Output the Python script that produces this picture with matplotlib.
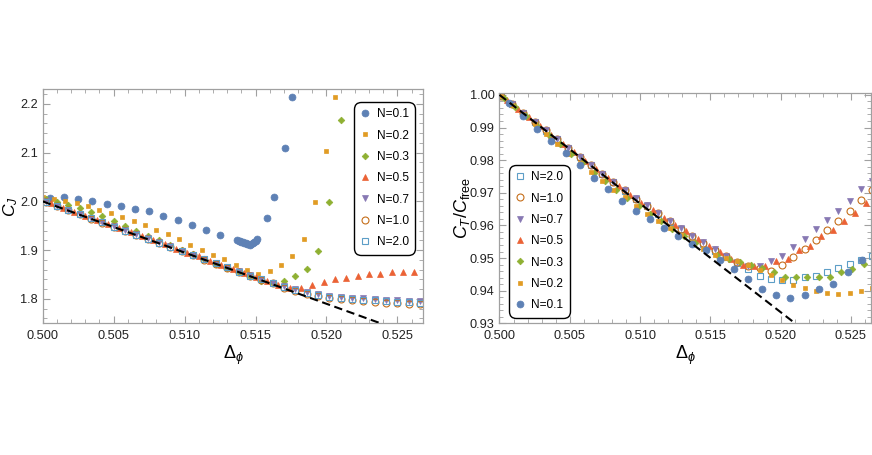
import matplotlib
matplotlib.use('Agg')
import matplotlib.pyplot as plt
from matplotlib.ticker import MultipleLocator, FormatStrFormatter

plt.rcParams['font.family'] = ['Liberation Sans', 'DejaVu Sans']
plt.rcParams['mathtext.fontset'] = 'custom'
plt.rcParams['mathtext.rm'] = 'Liberation Sans'
plt.rcParams['mathtext.it'] = 'Liberation Sans:italic'

# ---------------- left panel: C_J vs Delta_phi ----------------
cj_x_n01 = [0.5005, 0.5015, 0.5025, 0.5035, 0.5045, 0.5055, 0.5065, 0.5075, 0.5085,
            0.5095, 0.5105, 0.5115, 0.5125,
            0.5137, 0.5138, 0.5139, 0.5140, 0.5141, 0.5142, 0.5143, 0.5144, 0.5145,
            0.5146, 0.5147, 0.5148, 0.5149, 0.5150, 0.5151,
            0.5158, 0.5163, 0.5171, 0.5176]
cj_y_n01 = [2.0068, 2.0083, 2.0042, 2.0007, 1.9951, 1.9898, 1.9836, 1.9795, 1.9692,
            1.9610, 1.9520, 1.9411, 1.9315,
            1.9205, 1.9190, 1.9180, 1.9170, 1.9160, 1.9150, 1.9140, 1.9130, 1.9120,
            1.9110, 1.9120, 1.9140, 1.9160, 1.9190, 1.9220,
            1.9660, 2.0090, 2.1100, 2.2140]

cj_x_n02 = [0.5000, 0.5008, 0.5016, 0.5024, 0.5032, 0.5040, 0.5048, 0.5056, 0.5064,
            0.5072, 0.5080, 0.5088, 0.5096, 0.5104, 0.5112, 0.5120, 0.5128, 0.5136,
            0.5144, 0.5152, 0.5160, 0.5168, 0.5176, 0.5184, 0.5192, 0.5200, 0.5206]
cj_y_n02 = [2.0083, 2.0048, 2.0007, 1.9959, 1.9897, 1.9822, 1.9760, 1.9671, 1.9589,
            1.9507, 1.9411, 1.9329, 1.9220, 1.9097, 1.9000, 1.8904, 1.8809, 1.8698,
            1.8603, 1.8521, 1.8582, 1.8692, 1.8883, 1.9220, 1.9980, 2.1034, 2.2137]

cj_x_n03 = [0.5002, 0.5010, 0.5018, 0.5026, 0.5034, 0.5042, 0.5050, 0.5058, 0.5066,
            0.5074, 0.5082, 0.5090, 0.5098, 0.5106, 0.5114, 0.5122, 0.5130, 0.5138,
            0.5146, 0.5154, 0.5162, 0.5170, 0.5178, 0.5186, 0.5194, 0.5202, 0.5210]
cj_y_n03 = [2.0042, 1.9980, 1.9925, 1.9863, 1.9781, 1.9699, 1.9602, 1.9500, 1.9397,
            1.9294, 1.9200, 1.9097, 1.9000, 1.8918, 1.8815, 1.8726, 1.8637, 1.8542,
            1.8460, 1.8370, 1.8320, 1.8377, 1.8466, 1.8616, 1.8990, 1.9980, 2.1670]

cj_x_n05 = [0.5006, 0.5014, 0.5022, 0.5030, 0.5038, 0.5046, 0.5054, 0.5062, 0.5070,
            0.5078, 0.5086, 0.5094, 0.5102, 0.5110, 0.5118, 0.5126, 0.5134, 0.5142,
            0.5150, 0.5158, 0.5166, 0.5174, 0.5182, 0.5190, 0.5198, 0.5206, 0.5214,
            0.5222, 0.5230, 0.5238, 0.5246, 0.5254, 0.5262]
cj_y_n05 = [1.9960, 1.9870, 1.9790, 1.9710, 1.9620, 1.9540, 1.9450, 1.9370, 1.9290,
            1.9200, 1.9120, 1.9030, 1.8950, 1.8870, 1.8780, 1.8700, 1.8610, 1.8530,
            1.8450, 1.8370, 1.8290, 1.8226, 1.8226, 1.8295, 1.8350, 1.8404, 1.8432,
            1.8473, 1.8501, 1.8521, 1.8542, 1.8542, 1.8555]

cj_x_big = [0.5002, 0.5010, 0.5018, 0.5026, 0.5034, 0.5042, 0.5050, 0.5058, 0.5066,
            0.5074, 0.5082, 0.5090, 0.5098, 0.5106, 0.5114, 0.5122, 0.5130, 0.5138,
            0.5146, 0.5154, 0.5162, 0.5170, 0.5178, 0.5186, 0.5194, 0.5202, 0.5210,
            0.5218, 0.5226, 0.5234, 0.5242, 0.5250, 0.5258, 0.5266]
cj_y_n07 = [2.0000, 1.9915, 1.9831, 1.9747, 1.9663, 1.9579, 1.9495, 1.9411, 1.9327,
            1.9243, 1.9159, 1.9075, 1.8991, 1.8907, 1.8823, 1.8739, 1.8655, 1.8571,
            1.8487, 1.8410, 1.8335, 1.8260, 1.8200, 1.8150, 1.8100, 1.8060, 1.8040,
            1.8020, 1.8010, 1.8000, 1.7980, 1.7970, 1.7960, 1.7950]
cj_y_n10 = [1.9984, 1.9900, 1.9816, 1.9732, 1.9648, 1.9564, 1.9480, 1.9396, 1.9312,
            1.9228, 1.9144, 1.9060, 1.8976, 1.8892, 1.8808, 1.8724, 1.8640, 1.8556,
            1.8472, 1.8395, 1.8318, 1.8230, 1.8160, 1.8100, 1.8050, 1.8010, 1.7990,
            1.7970, 1.7950, 1.7940, 1.7920, 1.7910, 1.7900, 1.7890]
cj_y_n20 = [1.9989, 1.9905, 1.9821, 1.9737, 1.9653, 1.9569, 1.9485, 1.9401, 1.9317,
            1.9233, 1.9149, 1.9065, 1.8981, 1.8897, 1.8813, 1.8729, 1.8645, 1.8561,
            1.8477, 1.8402, 1.8326, 1.8245, 1.8180, 1.8120, 1.8070, 1.8030, 1.8010,
            1.7990, 1.7980, 1.7970, 1.7950, 1.7940, 1.7930, 1.7920]

cj_line_x = [0.500, 0.527]
cj_line_y = [2.000, 1.7165]

# ---------------- right panel: C_T/C_free vs Delta_phi ----------------
ct_x_n01 = [0.5007, 0.5017, 0.5027, 0.5037, 0.5047, 0.5057, 0.5067, 0.5077, 0.5087,
            0.5097, 0.5107, 0.5117, 0.5127, 0.5137, 0.5147, 0.5157, 0.5167, 0.5177,
            0.5187, 0.5197, 0.5207, 0.5217, 0.5227, 0.5237, 0.5248, 0.5258]
ct_y_n01 = [0.9976, 0.9935, 0.9894, 0.9858, 0.9823, 0.9786, 0.9746, 0.9712, 0.9676,
            0.9644, 0.9621, 0.9593, 0.9569, 0.9544, 0.9524, 0.9495, 0.9466, 0.9435,
            0.9406, 0.9386, 0.9379, 0.9386, 0.9404, 0.9421, 0.9456, 0.9495]

ct_x_main = [0.5001, 0.5009, 0.5017, 0.5025, 0.5033, 0.5041, 0.5049, 0.5057, 0.5065,
             0.5073, 0.5081, 0.5089, 0.5097, 0.5105, 0.5113, 0.5121, 0.5129, 0.5137,
             0.5145, 0.5153, 0.5161, 0.5169, 0.5177, 0.5185, 0.5193, 0.5201, 0.5209,
             0.5217, 0.5225, 0.5233, 0.5241, 0.5249, 0.5257, 0.5265]
ct_y_n02 = [0.9997, 0.9968, 0.9940, 0.9910, 0.9880, 0.9850, 0.9818, 0.9790, 0.9765,
            0.9737, 0.9710, 0.9686, 0.9660, 0.9636, 0.9613, 0.9592, 0.9570, 0.9548,
            0.9528, 0.9510, 0.9500, 0.9490, 0.9478, 0.9462, 0.9447, 0.9434, 0.9416,
            0.9407, 0.9400, 0.9394, 0.9389, 0.9392, 0.9400, 0.9409]
ct_y_n07 = [0.9997, 0.9971, 0.9944, 0.9918, 0.9891, 0.9864, 0.9838, 0.9811, 0.9785,
            0.9759, 0.9733, 0.9708, 0.9683, 0.9662, 0.9639, 0.9613, 0.9593, 0.9569,
            0.9550, 0.9528, 0.9507, 0.9488, 0.9476, 0.9476, 0.9490, 0.9507, 0.9534,
            0.9559, 0.9588, 0.9616, 0.9644, 0.9674, 0.9711, 0.9737]
ct_y_n10 = [0.9997, 0.9971, 0.9944, 0.9917, 0.9891, 0.9864, 0.9838, 0.9811, 0.9785,
            0.9759, 0.9732, 0.9707, 0.9682, 0.9660, 0.9637, 0.9612, 0.9590, 0.9566,
            0.9546, 0.9526, 0.9506, 0.9488, 0.9476, 0.9468, 0.9460, 0.9480, 0.9503,
            0.9528, 0.9555, 0.9585, 0.9613, 0.9644, 0.9678, 0.9709]
ct_y_n20 = [0.9997, 0.9971, 0.9944, 0.9917, 0.9890, 0.9864, 0.9837, 0.9811, 0.9785,
            0.9758, 0.9732, 0.9706, 0.9681, 0.9658, 0.9635, 0.9610, 0.9588, 0.9564,
            0.9543, 0.9522, 0.9503, 0.9486, 0.9466, 0.9446, 0.9436, 0.9433, 0.9433,
            0.9441, 0.9445, 0.9458, 0.9468, 0.9481, 0.9494, 0.9507]

ct_x_n03 = [0.5003, 0.5011, 0.5019, 0.5027, 0.5035, 0.5043, 0.5051, 0.5059, 0.5067,
            0.5075, 0.5083, 0.5091, 0.5099, 0.5107, 0.5115, 0.5123, 0.5131, 0.5139,
            0.5147, 0.5155, 0.5163, 0.5171, 0.5179, 0.5187, 0.5195, 0.5203, 0.5211,
            0.5219, 0.5227, 0.5235, 0.5243, 0.5251, 0.5259]
ct_y_n03 = [0.9990, 0.9962, 0.9934, 0.9905, 0.9876, 0.9848, 0.9818, 0.9790, 0.9762,
            0.9735, 0.9708, 0.9683, 0.9658, 0.9635, 0.9612, 0.9590, 0.9568, 0.9546,
            0.9526, 0.9508, 0.9496, 0.9489, 0.9480, 0.9468, 0.9456, 0.9443, 0.9443,
            0.9441, 0.9443, 0.9443, 0.9456, 0.9466, 0.9481]

ct_x_n05 = [0.5005, 0.5013, 0.5021, 0.5029, 0.5037, 0.5045, 0.5053, 0.5061, 0.5069,
            0.5077, 0.5085, 0.5093, 0.5101, 0.5109, 0.5117, 0.5125, 0.5133, 0.5141,
            0.5149, 0.5157, 0.5165, 0.5173, 0.5181, 0.5189, 0.5197, 0.5205, 0.5213,
            0.5221, 0.5229, 0.5237, 0.5245, 0.5253, 0.5261]
ct_y_n05 = [0.9984, 0.9957, 0.9931, 0.9904, 0.9878, 0.9851, 0.9825, 0.9798, 0.9772,
            0.9746, 0.9720, 0.9694, 0.9670, 0.9646, 0.9622, 0.9600, 0.9582, 0.9559,
            0.9538, 0.9517, 0.9497, 0.9479, 0.9476, 0.9476, 0.9490, 0.9497, 0.9524,
            0.9538, 0.9567, 0.9586, 0.9613, 0.9637, 0.9670]

ct_line_x = [0.500, 0.527]
ct_line_y = [1.000, 0.9101]

# Mathematica-like styles per N
styles = {
    'N=0.1': dict(marker='o', color='#5E81B5', ms=5.0, mfc='#5E81B5'),
    'N=0.2': dict(marker='s', color='#E19C24', ms=3.4, mfc='#E19C24'),
    'N=0.3': dict(marker='D', color='#8FB032', ms=3.4, mfc='#8FB032'),
    'N=0.5': dict(marker='^', color='#EB6235', ms=4.2, mfc='#EB6235'),
    'N=0.7': dict(marker='v', color='#8778B3', ms=4.2, mfc='#8778B3'),
    'N=1.0': dict(marker='o', color='#C56E1A', ms=5.0, mfc='none', mew=0.8),
    'N=2.0': dict(marker='s', color='#5D9EC7', ms=3.8, mfc='none', mew=0.8),
}

frame_col = '#a0a0a0'


def style_axes(ax):
    for s in ax.spines.values():
        s.set_color(frame_col)
        s.set_linewidth(0.9)
    ax.tick_params(which='both', direction='in', top=True, right=True,
                   color=frame_col, labelcolor='#222222', labelsize=9.2)
    ax.tick_params(which='major', length=5, width=0.8)
    ax.tick_params(which='minor', length=2.8, width=0.6)
    ax.tick_params(axis='x', which='major', pad=5)
    ax.xaxis.set_major_locator(MultipleLocator(0.005))
    ax.xaxis.set_minor_locator(MultipleLocator(0.001))
    ax.xaxis.set_major_formatter(FormatStrFormatter('%.3f'))


def draw(ax, xs, ys, label):
    st = styles[label]
    ax.plot(xs, ys, linestyle='none', marker=st['marker'], ms=st['ms'],
            mfc=st['mfc'], mec=st['color'], mew=st.get('mew', 0.5),
            label=label)


def add_legend(ax, loc, anchor):
    leg = ax.legend(loc=loc, bbox_to_anchor=anchor, borderaxespad=0, fontsize=8.6,
                    frameon=True, fancybox=True, edgecolor='black', framealpha=1,
                    handlelength=0.8, handletextpad=0.55, labelspacing=0.78,
                    borderpad=0.45, numpoints=1)
    leg.get_frame().set_linewidth(1.0)
    leg.get_frame().set_boxstyle('round,pad=0.1,rounding_size=0.6')
    return leg


fig = plt.figure(figsize=(8.72, 4.55), dpi=100)

# left
ax1 = fig.add_axes([0.049, 0.2895, 0.4365, 0.5143])
draw(ax1, cj_x_n01, cj_y_n01, 'N=0.1')
draw(ax1, cj_x_n02, cj_y_n02, 'N=0.2')
draw(ax1, cj_x_n03, cj_y_n03, 'N=0.3')
draw(ax1, cj_x_n05, cj_y_n05, 'N=0.5')
draw(ax1, cj_x_big, cj_y_n07, 'N=0.7')
draw(ax1, cj_x_big, cj_y_n10, 'N=1.0')
draw(ax1, cj_x_big, cj_y_n20, 'N=2.0')
ax1.plot(cj_line_x, cj_line_y, color='black', lw=1.5, ls=(0, (4, 2.2)), zorder=5)
ax1.set_xlim(0.5, 0.52683)
ax1.set_ylim(1.75, 2.23)
style_axes(ax1)
ax1.yaxis.set_major_locator(MultipleLocator(0.1))
ax1.yaxis.set_minor_locator(MultipleLocator(0.02))
ax1.yaxis.set_major_formatter(FormatStrFormatter('%.1f'))
ax1.set_xlabel(r'$\Delta_\phi$', fontsize=13, labelpad=1)
ax1.set_ylabel(r'$C_J$', fontsize=12.5)
ax1.yaxis.set_label_coords(-0.059, 0.5)
add_legend(ax1, 'upper left', (0.8205, 0.9415))

# right
ax2 = fig.add_axes([0.5728, 0.2895, 0.4266, 0.5055])
draw(ax2, ct_x_main, ct_y_n20, 'N=2.0')
draw(ax2, ct_x_main, ct_y_n10, 'N=1.0')
draw(ax2, ct_x_main, ct_y_n07, 'N=0.7')
draw(ax2, ct_x_n05, ct_y_n05, 'N=0.5')
draw(ax2, ct_x_n03, ct_y_n03, 'N=0.3')
draw(ax2, ct_x_main, ct_y_n02, 'N=0.2')
draw(ax2, ct_x_n01, ct_y_n01, 'N=0.1')
ax2.plot(ct_line_x, ct_line_y, color='black', lw=1.5, ls=(0, (4, 2.2)), zorder=5)
ax2.set_xlim(0.5, 0.52646)
ax2.set_ylim(0.93, 1.0005)
style_axes(ax2)
ax2.yaxis.set_major_locator(MultipleLocator(0.01))
ax2.yaxis.set_minor_locator(MultipleLocator(0.002))
ax2.yaxis.set_major_formatter(FormatStrFormatter('%.2f'))
ax2.set_xlabel(r'$\Delta_\phi$', fontsize=13, labelpad=1)
ax2.set_ylabel(r'$C_T/C_{\rm free}$', fontsize=13)
ax2.yaxis.set_label_coords(-0.075, 0.5)
add_legend(ax2, 'lower left', (0.028, 0.029))

fig.savefig('out.png', dpi=100)
